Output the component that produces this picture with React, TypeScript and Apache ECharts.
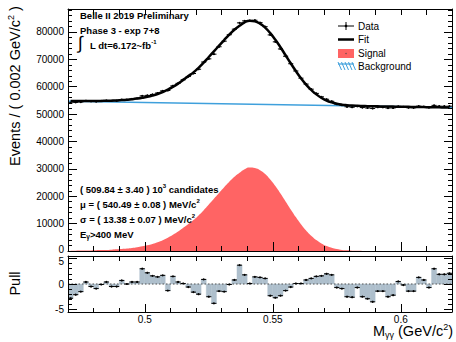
import React, { useEffect, useRef } from 'react';
import * as echarts from 'echarts';

const FONT = '"Liberation Sans", Arial, Helvetica, sans-serif';

// binning (x axis: M_gg in GeV/c^2, bins of 0.002)
const X_MIN = 0.47;
const X_MAX = 0.62;
const BIN_W = 0.002;
const Y_MAX = 88400;

// events per bin (data points)
const dataCounts = [
  54130, 54283, 54423, 54867, 54665, 54591, 54808, 54964, 54813, 54892,
  55282, 55258, 55531, 55760, 56666, 56847, 57175, 57699, 58493, 58636,
  60339, 61240, 62535, 63728, 64840, 66401, 69024, 70191, 71900, 74613,
  76649, 79006, 81031, 83334, 84062, 84141, 84286, 83425, 81934, 78940,
  76408, 73801, 71149, 68409, 65762, 63130, 60971, 59111, 57572, 56310,
  55421, 54690, 53628, 53252, 52682, 52519, 52867, 52392, 52249, 52076,
  52523, 52492, 52210, 52248, 52837, 52646, 52340, 52309, 52898, 52752,
  52378, 53195, 52912, 52881, 52897,
];

// total fit curve at bin centres
const fitValues = [
  54785, 54774, 54774, 54773, 54782, 54802, 54831, 54870, 54930, 55009,
  55118, 55258, 55437, 55666, 55956, 56325, 56794, 57364, 58083, 58952,
  59972, 61141, 62510, 63880, 65249, 66918, 68788, 70857, 72926, 74996,
  77065, 79034, 80804, 82273, 83542, 84112, 83881, 83050, 81620, 79589,
  77158, 74428, 71497, 68566, 65736, 63105, 60774, 58844, 57213, 55932,
  54952, 54271, 53790, 53460, 53259, 53118, 53028, 52967, 52916, 52881,
  52845, 52814, 52784, 52753, 52722, 52692, 52661, 52630, 52600, 52569,
  52538, 52508, 52477, 52446, 52416,
];

// signal component at bin centres
const signalValues = [
  100, 120, 150, 180, 220, 270, 330, 400, 490, 600,
  740, 910, 1120, 1380, 1700, 2100, 2600, 3200, 3950, 4850,
  5900, 7100, 8500, 9900, 11300, 13000, 14900, 17000, 19100, 21200,
  23300, 25300, 27100, 28600, 29900, 30500, 30300, 29500, 28100, 26100,
  23700, 21000, 18100, 15200, 12400, 9800, 7500, 5600, 4000, 2750,
  1800, 1150, 700, 400, 230, 120, 60, 30, 10, 5,
  0, 0, 0, 0, 0, 0, 0, 0, 0, 0,
  0, 0, 0, 0, 0,
];

// background (straight line) end points
const bkgX = [0.47, 0.62];
const bkgY = [54700, 52400];

// pull per bin
const pullValues = [
  -2.8, -2.1, -1.5, 0.4, -0.5, -0.9, -0.1, 0.4, -0.5, -0.5,
  0.7, 0.0, 0.4, 0.4, 3.0, 2.2, 1.6, 1.4, 1.7, -1.3,
  1.5, 0.4, 0.1, -0.6, -1.6, -2.0, 0.9, -2.5, -3.8, -1.4,
  -1.5, -0.1, 0.8, 3.7, 1.8, 0.1, 1.4, 1.3, 1.1, -2.3,
  -2.7, -2.3, -1.3, -0.6, 0.1, 0.1, 0.8, 1.1, 1.5, 1.6,
  2.0, 1.8, -0.7, -0.9, -2.5, -2.6, -0.7, -2.5, -2.9, -3.5,
  -1.4, -1.4, -2.5, -2.2, 0.5, -0.2, -1.4, -1.4, 1.3, 0.8,
  -0.7, 3.0, 1.9, 1.9, 2.1,
];

const xTickLabels = ['0.5', '0.55', '0.6'];
const yTickLabels = ['0', '10000', '20000', '30000', '40000', '50000', '60000', '70000', '80000'];
const pullTickLabels = ['-5', '0', '5'];

const binCenter = (i: number) => X_MIN + BIN_W * (i + 0.5);

const SIGNAL_COLOR = '#ff6464';
const BKG_COLOR = '#3fa0dc';
const PULL_COLOR = '#aebfcc';

const lineStyleBlack = { color: '#000', width: 1 };

const labelRich = {
  up: { fontSize: 10, fontFamily: FONT, color: '#000', padding: [0, 0, 4, 0] },
  dn: { fontSize: 10, fontFamily: FONT, color: '#000', padding: [6, 0, 0, 0] },
};

function xAx(gridIndex: number, position: string, splitNumber: number, tickLen: number, showLine: boolean, labels = false) {
  return {
    type: 'value', gridIndex, position, min: X_MIN, max: X_MAX, splitNumber, z: 5,
    axisLine: { show: showLine, onZero: false, lineStyle: lineStyleBlack },
    axisTick: { show: true, inside: true, length: tickLen, lineStyle: lineStyleBlack },
    axisLabel: labels
      ? {
          show: true, margin: 2, color: '#000', fontSize: 10, fontFamily: FONT,
          formatter: (v: number) => {
            const s = String(+v.toFixed(3));
            return xTickLabels.includes(s) ? s : '';
          },
        }
      : { show: false },
    splitLine: { show: false },
  };
}

function yAx(gridIndex: number, position: string, min: number, max: number, splitNumber: number, tickLen: number, showLine: boolean, labels: string[] | null, shift: Record<string, string> = {}) {
  return {
    type: 'value', gridIndex, position, min, max, splitNumber, z: 5,
    axisLine: { show: showLine, onZero: false, lineStyle: lineStyleBlack },
    axisTick: { show: true, inside: true, length: tickLen, lineStyle: lineStyleBlack },
    axisLabel: labels
      ? {
          show: true, margin: 4, color: '#000', fontSize: 10, fontFamily: FONT,
          rich: labelRich,
          formatter: (v: number) => {
            const s = String(+v.toFixed(3));
            if (!labels.includes(s)) return '';
            return shift[s] ? '{' + shift[s] + '|' + s + '}' : s;
          },
        }
      : { show: false },
    splitLine: { show: false },
  };
}

const markerRender = (withErr: boolean) => (params: any, api: any) => {
  const x = api.value(0);
  const y = api.value(1);
  const a = api.coord([x - BIN_W / 2, y]);
  const b = api.coord([x + BIN_W / 2, y]);
  const c = api.coord([x, y]);
  const children: any[] = [
    { type: 'line', shape: { x1: a[0], y1: a[1], x2: b[0], y2: b[1] }, style: { stroke: '#000', lineWidth: 1 } },
    { type: 'circle', shape: { cx: c[0], cy: c[1], r: 1.1 }, style: { fill: '#000' } },
  ];
  if (withErr) {
    const e = Math.sqrt(y);
    const lo = api.coord([x, y - e]);
    const hi = api.coord([x, y + e]);
    children.push({ type: 'line', shape: { x1: c[0], y1: lo[1], x2: c[0], y2: hi[1] }, style: { stroke: '#000', lineWidth: 1 } });
  }
  return { type: 'group', children };
};

const pullBarRender = (params: any, api: any) => {
  const x = api.value(0);
  const p = api.value(1);
  const a = api.coord([x - BIN_W / 2, 0]);
  const b = api.coord([x + BIN_W / 2, p]);
  return {
    type: 'rect',
    shape: { x: a[0], y: Math.min(a[1], b[1]), width: b[0] - a[0], height: Math.abs(b[1] - a[1]) },
    style: { fill: PULL_COLOR, stroke: PULL_COLOR, lineWidth: 0.4 },
  };
};

const bRich = {
  b: { fontSize: 9.5, fontWeight: 'bold', fontFamily: FONT, lineHeight: 12, fill: '#000' },
  bs: { fontSize: 6, fontWeight: 'bold', fontFamily: FONT, lineHeight: 6, verticalAlign: 'top', fill: '#000' },
  bsub: { fontSize: 6.5, fontWeight: 'bold', fontFamily: FONT, lineHeight: 6, verticalAlign: 'bottom', fill: '#000' },
};
const nRich = {
  n: { fontSize: 14.5, fontFamily: FONT, lineHeight: 17, fill: '#000' },
  s: { fontSize: 9, fontFamily: FONT, lineHeight: 9, verticalAlign: 'top', fill: '#000' },
  sb: { fontSize: 9, fontFamily: FONT, lineHeight: 9, verticalAlign: 'bottom', fill: '#000' },
};

const boldText = (x: number, y: number, text: string) => ({
  type: 'text', x, y, z: 100,
  style: { text, rich: bRich, textAlign: 'left', textVerticalAlign: 'middle', fill: '#000' },
});

const legendText = (y: number, text: string) => ({
  type: 'text', x: 358, y, z: 100,
  style: { text, fontSize: 10, fontFamily: FONT, fill: '#000', textAlign: 'left', textVerticalAlign: 'middle' },
});

const hatch: any[] = [];
for (let k = 0; k < 5; k++) {
  hatch.push({
    type: 'line', z: 100,
    shape: { x1: 338 + 3.5 * k, y1: 62, x2: 341.5 + 3.5 * k, y2: 70 },
    style: { stroke: BKG_COLOR, lineWidth: 1 },
  });
}

const option: any = {
  animation: false,
  backgroundColor: '#fff',
  grid: [
    { left: 68, top: 9, right: 4, height: 242 },
    { left: 68, top: 256, right: 4, height: 56 },
  ],
  xAxis: [
    xAx(0, 'bottom', 3, 9, true),
    xAx(0, 'bottom', 15, 5, false),
    xAx(0, 'top', 15, 6, true),
    xAx(1, 'bottom', 3, 8, true, true),
    xAx(1, 'bottom', 15, 4, false),
    xAx(1, 'top', 15, 5, true),
  ],
  yAxis: [
    yAx(0, 'left', 0, Y_MAX, 9, 9, true, yTickLabels, { '0': 'up' }),
    yAx(0, 'left', 0, Y_MAX, 44, 4, false, null),
    yAx(0, 'right', 0, Y_MAX, 9, 8, true, null),
    yAx(0, 'right', 0, Y_MAX, 44, 4, false, null),
    yAx(1, 'left', -5.5, 5.5, 2, 9, true, pullTickLabels, { '5': 'dn' }),
    yAx(1, 'left', -5.5, 5.5, 11, 4, false, null),
    yAx(1, 'right', -5.5, 5.5, 2, 8, true, null),
    yAx(1, 'right', -5.5, 5.5, 11, 4, false, null),
  ],
  series: [
    {
      type: 'line', xAxisIndex: 0, yAxisIndex: 0, smooth: true, showSymbol: false, symbol: 'none',
      data: signalValues.map((v, i) => [binCenter(i), v]),
      lineStyle: { width: 0, color: SIGNAL_COLOR },
      areaStyle: { color: SIGNAL_COLOR, opacity: 1 },
      z: 1,
    },
    {
      type: 'line', xAxisIndex: 0, yAxisIndex: 0, showSymbol: false, symbol: 'none',
      data: bkgX.map((x, i) => [x, bkgY[i]]),
      lineStyle: { width: 1.6, color: BKG_COLOR },
      z: 2,
    },
    {
      type: 'line', xAxisIndex: 0, yAxisIndex: 0, smooth: true, showSymbol: false, symbol: 'none',
      data: fitValues.map((v, i) => [binCenter(i), v]),
      lineStyle: { width: 2.5, color: '#000' },
      z: 3,
    },
    {
      type: 'custom', xAxisIndex: 0, yAxisIndex: 0, clip: true,
      data: dataCounts.map((v, i) => [binCenter(i), v]),
      renderItem: markerRender(true),
      z: 4,
    },
    {
      type: 'custom', xAxisIndex: 3, yAxisIndex: 4, clip: true,
      data: pullValues.map((v, i) => [binCenter(i), v]),
      renderItem: pullBarRender,
      z: 2,
    },
    {
      type: 'line', xAxisIndex: 3, yAxisIndex: 4, showSymbol: false, symbol: 'none',
      data: [[X_MIN, 0], [X_MAX, 0]],
      lineStyle: { width: 1, color: '#555', type: [1.5, 2] },
      z: 3,
    },
    {
      type: 'custom', xAxisIndex: 3, yAxisIndex: 4, clip: true,
      data: pullValues.map((v, i) => [binCenter(i), v]),
      renderItem: markerRender(false),
      z: 4,
    },
  ],
  graphic: [
    {
      type: 'text', x: 15, y: 86, rotation: Math.PI / 2, z: 100,
      style: { text: '{n|Events / ( 0.002 GeV/c}{s|2}{n| )}', rich: nRich, textAlign: 'center', textVerticalAlign: 'middle', fill: '#000' },
    },
    {
      type: 'text', x: 15, y: 283.5, rotation: Math.PI / 2, z: 100,
      style: { text: '{n|Pull}', rich: nRich, textAlign: 'center', textVerticalAlign: 'middle', fill: '#000' },
    },
    {
      type: 'text', x: 453, y: 331, z: 100,
      style: { text: '{n|M}{sb|γγ}{n| (GeV/c}{s|2}{n|)}', rich: nRich, textAlign: 'right', textVerticalAlign: 'middle', fill: '#000' },
    },
    boldText(80, 15, '{b|Belle II 2019 Preliminary}'),
    boldText(80, 30, '{b|Phase 3 - exp 7+8}'),
    {
      type: 'text', x: 78, y: 43, z: 100,
      style: { text: '∫', fontSize: 18, fontFamily: FONT, fill: '#000', textAlign: 'left', textVerticalAlign: 'middle' },
    },
    boldText(90, 45, '{b|L dt=6.172~fb}{bs|-1}'),
    boldText(80, 189, '{b|( 509.84 ± 3.40 ) 10}{bs|3}{b| candidates}'),
    boldText(80, 204, '{b|μ = ( 540.49 ± 0.08 ) MeV/c}{bs|2}'),
    boldText(80, 219, '{b|σ = ( 13.38 ± 0.07 ) MeV/c}{bs|2}'),
    boldText(80, 234, '{b|E}{bsub|γ}{b|>400 MeV}'),
    // legend
    { type: 'line', z: 100, shape: { x1: 338, y1: 26, x2: 354, y2: 26 }, style: { stroke: '#000', lineWidth: 1 } },
    { type: 'line', z: 100, shape: { x1: 346, y1: 22, x2: 346, y2: 30 }, style: { stroke: '#000', lineWidth: 1 } },
    { type: 'circle', z: 100, shape: { cx: 346, cy: 26, r: 1.3 }, style: { fill: '#000' } },
    legendText(26, 'Data'),
    { type: 'line', z: 100, shape: { x1: 338, y1: 39.5, x2: 354, y2: 39.5 }, style: { stroke: '#000', lineWidth: 2.5 } },
    legendText(39.5, 'Fit'),
    { type: 'rect', z: 100, shape: { x: 338, y: 49, width: 16, height: 9 }, style: { fill: SIGNAL_COLOR } },
    { type: 'circle', z: 101, shape: { cx: 346, cy: 53.5, r: 0.6 }, style: { fill: '#444' } },
    legendText(53.5, 'Signal'),
    { type: 'line', z: 100, shape: { x1: 338, y1: 64, x2: 354, y2: 64 }, style: { stroke: BKG_COLOR, lineWidth: 1.2 } },
    ...hatch,
    legendText(66.5, 'Background'),
  ],
};

const App = () => {
  const ref = useRef<HTMLDivElement>(null);
  useEffect(() => {
    const chart = echarts.init(ref.current as HTMLDivElement, null, { renderer: 'svg' });
    chart.setOption(option);
    return () => chart.dispose();
  }, []);
  return <div ref={ref} style={{ position: 'fixed', left: 0, top: 0, width: 456, height: 342 }} />;
};

export default App;
